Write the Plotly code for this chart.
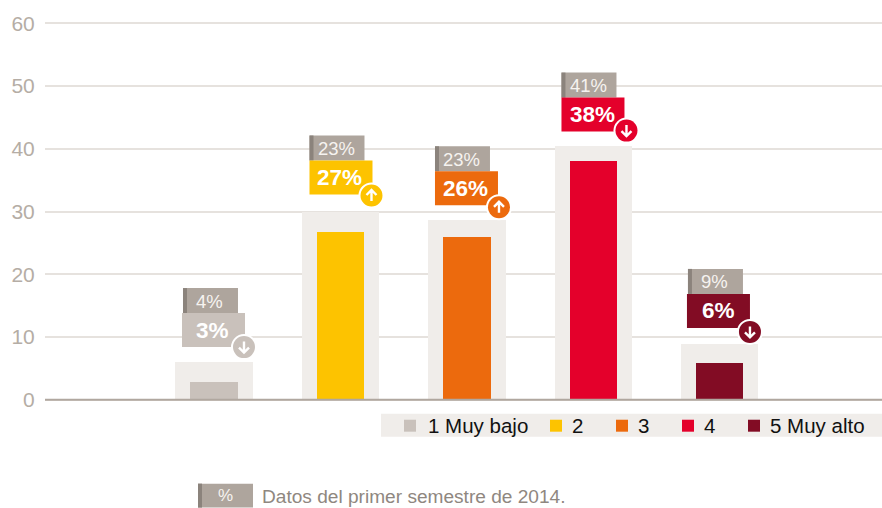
import plotly.graph_objects as go

# ---- data ----
categories = ["1 Muy bajo", "2", "3", "4", "5 Muy alto"]
current_values = [2.9, 26.7, 26.0, 38.0, 5.9]
previous_values = [6.0, 30.0, 28.6, 40.5, 8.9]
current_labels = ["3%", "27%", "26%", "38%", "6%"]
previous_labels = ["4%", "23%", "23%", "41%", "9%"]
trend = ["down", "up", "up", "down", "down"]
y_ticks = [0, 10, 20, 30, 40, 50, 60]
footnote_tag = "%"
footnote = "Datos del primer semestre de 2014."

# ---- styles ----
COLORS = ["#c9c1bb", "#fdc300", "#ec6a0d", "#e4002b", "#820c24"]
BG = "#f0edea"
GRID = "#e6e2de"
AXIS = "#b0a79f"
TAG = "#aea59d"
TAG_DARK = "#8b837c"
TICK = "#b5ada5"
FONT = "Liberation Sans"

W, H = 882, 508
L, T, B = 45, 21.74, 106.74
PW, PH = W - L, H - T - B
X_RANGE = [-1.336, 5.281]
Y_RANGE = [-0.2, 60.2]

# pixel offsets of the badges relative to each bar
BOX_DX = [-32, -31, -32, -32, -33]
BOX_GAP = [15, 17, 15, 14, 16]
TAG_DX = [-31, -31, -32, -32, -32]
CIRC_DX = [30, 31, 32, 33, 30]
CIRC_DY = [0, -1, -2, 1, -4]
BOX_W, BOX_H, TAG_W, TAG_H = 63, 34, 55, 25


def px(x):
    return (x - L) / PW


def py(y):
    return (H - B - y) / PH


fig = go.Figure()
fig.add_bar(x=list(range(5)), y=previous_values, width=0.609, marker=dict(color=BG, line_width=0),
            name="Anterior", hoverinfo="skip")
fig.add_bar(x=list(range(5)), y=current_values, width=0.372, marker=dict(color=COLORS, line_width=0),
            name="Actual", customdata=categories, hovertemplate="%{customdata}: %{y}<extra></extra>")

shapes, ann = [], []


def pbox(i, x0, x1, y0, y1, color):
    shapes.append(dict(type="rect", xref="x", yref="y", xsizemode="pixel", ysizemode="pixel",
                       xanchor=i, yanchor=previous_values[i], x0=x0, x1=x1, y0=y0, y1=y1,
                       fillcolor=color, line_width=0, layer="above"))


def pcircle(i, cx, cy, r, color):
    shapes.append(dict(type="circle", xref="x", yref="y", xsizemode="pixel", ysizemode="pixel",
                       xanchor=i, yanchor=previous_values[i], x0=cx - r, x1=cx + r, y0=cy - r, y1=cy + r,
                       fillcolor=color, line_width=0, layer="above"))


for i in range(5):
    gap = BOX_GAP[i]
    # previous-period tag
    tag_y = gap + BOX_H
    pbox(i, TAG_DX[i], TAG_DX[i] + TAG_W, tag_y, tag_y + TAG_H, TAG)
    pbox(i, TAG_DX[i], TAG_DX[i] + 4, tag_y, tag_y + TAG_H, TAG_DARK)
    # current-period box
    pbox(i, BOX_DX[i], BOX_DX[i] + BOX_W, gap, gap + BOX_H, COLORS[i])
    # trend badge
    cx, cy = CIRC_DX[i], gap + CIRC_DY[i]
    pcircle(i, cx, cy, 13, "#ffffff")
    pcircle(i, cx, cy, 11, COLORS[i])
    s = 1 if trend[i] == "up" else -1
    shapes.append(dict(type="path", xref="x", yref="y", xsizemode="pixel", ysizemode="pixel",
                       xanchor=i, yanchor=previous_values[i],
                       path=(f"M{cx},{cy - 5.5 * s} L{cx},{cy + 5.5 * s} "
                             f"M{cx - 5},{cy + 0.5 * s} L{cx},{cy + 5.5 * s} L{cx + 5},{cy + 0.5 * s}"),
                       line=dict(color="#ffffff", width=2.4), layer="above"))
    ann.append(dict(x=i, y=previous_values[i], xref="x", yref="y", xanchor="center", yanchor="middle",
                    xshift=TAG_DX[i] + TAG_W / 2 - 0.5, yshift=tag_y + TAG_H / 2 - 0.5, text=previous_labels[i],
                    showarrow=False, font=dict(family=FONT, size=18.5, color="#f6f3f0")))
    ann.append(dict(x=i, y=previous_values[i], xref="x", yref="y", xanchor="center", yanchor="middle",
                    xshift=-1, yshift=gap + BOX_H / 2, text=f"<b>{current_labels[i]}</b>",
                    showarrow=False, font=dict(family=FONT, size=22.5, color="#ffffff")))

# axis baseline on top of the bars
shapes.append(dict(type="line", xref="paper", yref="y", x0=0, x1=1, y0=0, y1=0,
                   line=dict(color=AXIS, width=2), layer="above"))

# legend strip
shapes.append(dict(type="rect", xref="paper", yref="paper", x0=px(381), x1=px(882), y0=py(437), y1=py(414),
                   fillcolor=BG, line_width=0, layer="above"))
LEG_SQ = [404, 550, 616, 682, 748]
LEG_TX = [428, 572, 638, 704, 770]
for c, name, sx, tx in zip(COLORS, categories, LEG_SQ, LEG_TX):
    shapes.append(dict(type="rect", xref="paper", yref="paper", x0=px(sx), x1=px(sx + 12),
                       y0=py(432), y1=py(420), fillcolor=c, line_width=0, layer="above"))
    ann.append(dict(x=px(tx), y=py(426), xref="paper", yref="paper", xanchor="left", yanchor="middle",
                    text=name, showarrow=False, xshift=-2, font=dict(family=FONT, size=20.5, color="#111111")))

# footnote
shapes.append(dict(type="rect", xref="paper", yref="paper", x0=px(198), x1=px(253), y0=py(508), y1=py(484),
                   fillcolor=TAG, line_width=0, layer="above"))
shapes.append(dict(type="rect", xref="paper", yref="paper", x0=px(198), x1=px(202), y0=py(508), y1=py(484),
                   fillcolor=TAG_DARK, line_width=0, layer="above"))
ann.append(dict(x=px(225), y=py(496), xref="paper", yref="paper", xanchor="center", yanchor="middle",
                text=footnote_tag, showarrow=False, font=dict(family=FONT, size=17, color="#f6f3f0")))
ann.append(dict(x=px(262), y=py(497), xref="paper", yref="paper", xanchor="left", yanchor="middle",
                text=footnote, showarrow=False, xshift=-2, font=dict(family=FONT, size=19.1, color="#8f8780")))

fig.update_layout(
    width=W, height=H, margin=dict(l=L, r=0, t=T, b=B, pad=0, autoexpand=False),
    paper_bgcolor="#ffffff", plot_bgcolor="#ffffff", barmode="overlay", bargap=0,
    showlegend=False, shapes=shapes, annotations=ann,
    xaxis=dict(range=X_RANGE, showgrid=False, zeroline=False, showticklabels=False, ticks="", fixedrange=True),
    yaxis=dict(range=Y_RANGE, tickvals=y_ticks, showgrid=True, gridcolor=GRID, gridwidth=2, zeroline=False,
               showline=False, ticks="outside", ticklen=5, tickcolor="rgba(0,0,0,0)", tickwidth=1,
               tickfont=dict(family=FONT, size=21, color=TICK), fixedrange=True),
)
fig.write_html("out.html", config=dict(displayModeBar=False),
               post_script="document.body.style.margin='0';document.body.style.overflow='hidden';")
